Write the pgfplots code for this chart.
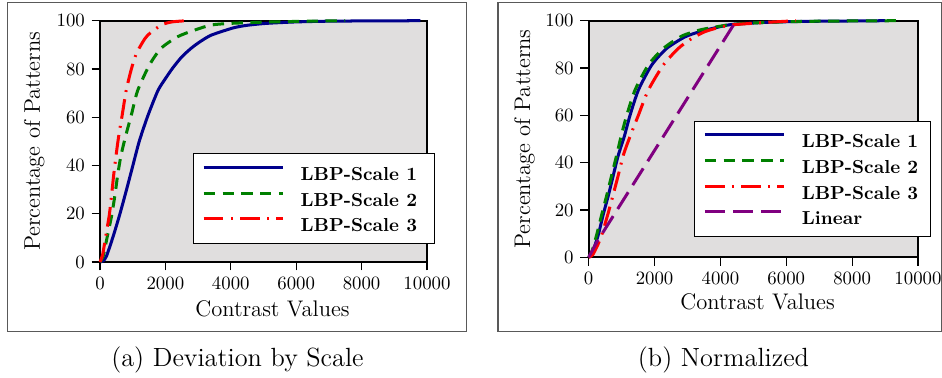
\documentclass[border=0pt]{standalone}
\usepackage{pgfplots}
\pgfplotsset{compat=1.18}
\definecolor{bgg}{RGB}{224,222,222}
\definecolor{cblue}{RGB}{0,0,140}
\definecolor{cgreen}{RGB}{0,128,0}
\definecolor{cred}{RGB}{255,0,0}
\definecolor{cpurple}{RGB}{128,0,128}
\pgfplotsset{
 myaxis/.style={
  scale only axis, anchor=south west,
  xmin=0,xmax=10000,ymin=0,ymax=100,
  xtick={0,2000,...,10000}, ytick={0,20,...,100},
  scaled x ticks=false,
  xticklabel style={/pgf/number format/.cd,set thousands separator={},fixed},
  tick pos=left, tick align=outside, major tick length=4.5pt,
  axis line style={line width=0.9pt},
  every tick/.style={black, line width=0.6pt},
  axis background/.style={fill=bgg},
  label style={font=\fontsize{12}{14}\selectfont},
  xlabel={Contrast Values}, ylabel={Percentage of Patterns},
  legend cell align=left,
  legend image code/.code={\draw[##1] (0pt,3.4pt) -- (42pt,3.4pt);},
  legend style={draw=black, line width=0.6pt, fill=white, anchor=north west,
    font=\bfseries, inner xsep=4.5pt, inner ysep=6.5pt, row sep=5.9pt, column sep=8.8pt,
    nodes={inner sep=0pt, text height=7pt, text depth=0pt}},
  clip=false,
 },
 s1/.style={cblue, line width=1.6pt, smooth, tension=0.4},
 s2/.style={cgreen, line width=1.6pt, smooth, tension=0.4, dash pattern=on 6pt off 4pt},
 s3/.style={cred, line width=1.6pt, smooth, tension=0.4, dash pattern=on 10.5pt off 3.9pt on 1pt off 3.9pt},
 s4/.style={cpurple, line width=1.6pt, dash pattern=on 10.5pt off 4.5pt},
}
\begin{document}
\begin{tikzpicture}
\useasboundingbox (0pt,0pt) rectangle (501.06pt,-201.06pt);
\draw[black!65, line width=0.6pt] (3.88pt,-1.44pt) rectangle (248.13pt,-176.43pt);
\draw[black!65, line width=0.6pt] (264.89pt,-1.44pt) rectangle (500.68pt,-176.43pt);

\begin{axis}[myaxis, at={(53.19pt,-139.36pt)}, width=173.93pt, height=128.35pt,
  xlabel style={at={(axis description cs:0.5275,-0.2267)}, anchor=base},
  ylabel style={at={(axis description cs:-0.1835,0.5)}, anchor=base},
  legend style={at={(0.285,0.4505)}}]
\addplot[s1] coordinates {(0,0) (100,0.5) (200,2.5) (400,10.5) (600,19.5) (800,29.4) (1000,39.7) (1200,50) (1460,60.5) (1770,71) (2000,76) (2230,80.5) (2500,85) (2790,88.6) (3050,91.2) (3400,94) (4070,97) (4500,98.1) (5100,98.9) (6000,99.5) (7000,99.8) (8000,99.9) (9800,100)};
\addlegendentry{LBP-Scale 1\rule{4.6pt}{0pt}}
\addplot[s2] coordinates {(0,0) (100,2.5) (230,11) (360,19.5) (460,28) (540,36) (640,44) (780,52) (960,61) (1150,71) (1510,81.6) (1870,88.6) (2380,93.4) (2890,96.1) (3400,98.2) (4000,98.9) (5000,99.4) (6000,99.7) (7500,100)};
\addlegendentry{LBP-Scale 2\rule{4.6pt}{0pt}}
\addplot[s3] coordinates {(0,0) (80,3) (180,11) (285,19.5) (357,28) (418,36) (490,44) (570,52) (680,61) (800,71) (950,79.5) (1100,86) (1300,91) (1460,94) (1870,98.2) (2200,99.5) (2650,100)};
\addlegendentry{LBP-Scale 3\rule{4.6pt}{0pt}}
\end{axis}

\begin{axis}[myaxis, at={(313.13pt,-136.86pt)}, width=175.16pt, height=125.85pt,
  xlabel style={at={(axis description cs:0.513,-0.2227)}, anchor=base},
  ylabel style={at={(axis description cs:-0.178,0.5)}, anchor=base},
  legend style={at={(0.3207,0.5774)}}]
\addplot[s1] coordinates {(0,0) (70,1) (150,3.5) (290,9.4) (440,18) (600,26.3) (750,34.8) (900,43.2) (1080,51) (1255,60) (1510,70.7) (1915,81.3) (2370,88.3) (2930,93.2) (3430,95.6) (4000,97.5) (4400,98.5) (5400,99.3) (6500,99.7) (9000,100)};
\addlegendentry{LBP-Scale 1\rule{1.8pt}{0pt}}
\addplot[s2] coordinates {(0,0) (100,2.5) (240,9.4) (395,18) (550,26.3) (700,34.8) (850,43.2) (990,51.5) (1155,60) (1407,70.7) (1812,81.3) (2268,88.3) (2827,93.5) (3380,96.1) (4000,97.7) (4400,98.5) (5400,99.3) (7000,99.8) (9400,100)};
\addlegendentry{LBP-Scale 2\rule{1.8pt}{0pt}}
\addplot[s3] coordinates {(0,0) (120,1) (274,5.2) (395,9.4) (578,18) (740,26.3) (900,34.8) (1052,43.2) (1240,50.5) (1508,60) (1812,70.7) (2268,81.3) (2723,88.3) (3130,92.5) (3535,95.4) (4000,97.3) (4400,98.3) (5400,99.3) (6300,100)};
\addlegendentry{LBP-Scale 3\rule{1.8pt}{0pt}}
\addplot[s4] coordinates {(0,0) (250,6.5) (4480,100)};
\addlegendentry{Linear}
\end{axis}

\node[anchor=base, font=\fontsize{14}{17}\selectfont] at (126.33pt,-194.7pt) {(a) Deviation by Scale};
\node[anchor=base, font=\fontsize{14}{17}\selectfont] at (384.83pt,-194.7pt) {(b) Normalized};
\end{tikzpicture}
\end{document}
